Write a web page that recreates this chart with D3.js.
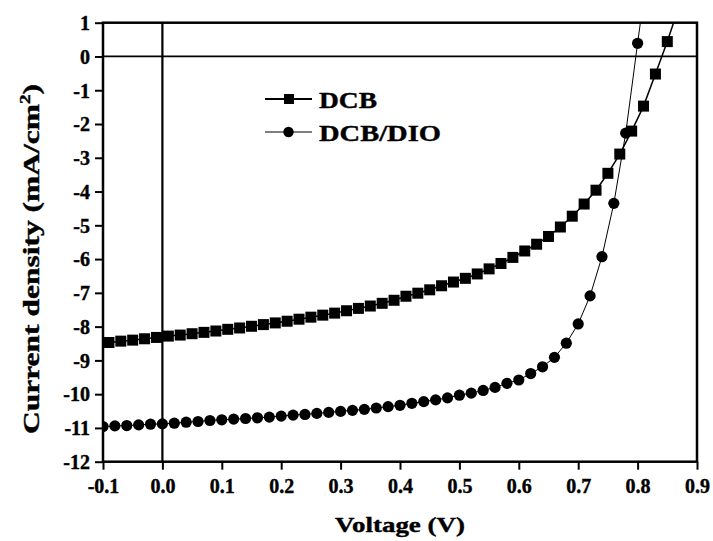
<!DOCTYPE html>
<html>
<head>
<meta charset="utf-8">
<script src="https://cdn.jsdelivr.net/npm/d3@7"></script>
<style>
    body { margin: 0; background: #fff; }
    svg { display: block; }
    text { font-family: "Liberation Serif", "Times New Roman", serif; font-weight: bold; fill: #000; stroke: #000; stroke-width: 0.4px; }
</style>
</head>
<body>
<div id="chart"></div>
<script>
// DCB (squares)
var dcbVoltage = [-0.09, -0.07, -0.05, -0.03, -0.01, 0.01, 0.03, 0.05, 0.07, 0.09,
    0.11, 0.13, 0.15, 0.17, 0.19, 0.21, 0.23, 0.25, 0.27, 0.29,
    0.31, 0.33, 0.35, 0.37, 0.39, 0.41, 0.43, 0.45, 0.47, 0.49,
    0.51, 0.53, 0.55, 0.57, 0.59, 0.61, 0.63, 0.65, 0.67, 0.69,
    0.71, 0.73, 0.75, 0.77, 0.79, 0.81, 0.83, 0.85, 0.87];
var dcbCurrent = [-8.47, -8.43, -8.40, -8.36, -8.32, -8.28, -8.25, -8.21, -8.17, -8.13,
    -8.08, -8.04, -7.99, -7.94, -7.89, -7.84, -7.78, -7.72, -7.66, -7.60,
    -7.53, -7.46, -7.39, -7.31, -7.22, -7.10, -7.01, -6.91, -6.79, -6.68,
    -6.57, -6.44, -6.29, -6.13, -5.95, -5.76, -5.56, -5.33, -5.05, -4.73,
    -4.37, -3.96, -3.46, -2.89, -2.21, -1.47, -0.52, 0.44, 1.50];

// DCB/DIO (circles)
var dioVoltage = [-0.10, -0.08, -0.06, -0.04, -0.02, 0.00, 0.02, 0.04, 0.06, 0.08,
    0.10, 0.12, 0.14, 0.16, 0.18, 0.20, 0.22, 0.24, 0.26, 0.28,
    0.30, 0.32, 0.34, 0.36, 0.38, 0.40, 0.42, 0.44, 0.46, 0.48,
    0.50, 0.52, 0.54, 0.56, 0.58, 0.60, 0.62, 0.64, 0.66, 0.68,
    0.70, 0.72, 0.74, 0.76, 0.78, 0.80, 0.82];
var dioCurrent = [-10.96, -10.94, -10.93, -10.91, -10.89, -10.88, -10.86, -10.83, -10.81, -10.78,
    -10.76, -10.74, -10.72, -10.70, -10.68, -10.65, -10.62, -10.60, -10.57, -10.54,
    -10.51, -10.48, -10.45, -10.41, -10.37, -10.33, -10.27, -10.22, -10.17, -10.11,
    -10.03, -9.97, -9.89, -9.80, -9.68, -9.58, -9.39, -9.19, -8.91, -8.49,
    -7.92, -7.09, -5.93, -4.35, -2.27, 0.39, 3.00];

var xTicks = [-0.1, 0.0, 0.1, 0.2, 0.3, 0.4, 0.5, 0.6, 0.7, 0.8, 0.9];
var yTicks = [1, 0, -1, -2, -3, -4, -5, -6, -7, -8, -9, -10, -11, -12];
var seriesNames = ["DCB", "DCB/DIO"];

var margin = {top: 22.7, right: 16, bottom: 79.3, left: 103};
var width = 713 - margin.left - margin.right,
    height = 541 - margin.top - margin.bottom;

var svg = d3.select("#chart").append("svg")
    .attr("width", 713)
    .attr("height", 541)
    .append("g")
    .attr("transform", "translate(" + margin.left + "," + margin.top + ")");

var x = d3.scaleLinear().domain([-0.1, 0.9]).range([0, width]);
var y = d3.scaleLinear().domain([-12, 1]).range([height, 0]);

var fmt = function(d) { return d3.format(".1f")(d).replace("\u2212", "-"); };

// axes
var xAxis = svg.append("g")
    .attr("transform", "translate(0," + height + ")")
    .call(d3.axisBottom(x).tickValues(xTicks).tickFormat(fmt).tickSize(8).tickPadding(4));
var yAxis = svg.append("g")
    .call(d3.axisLeft(y).tickValues(yTicks).tickFormat(function(d) { return String(d); }).tickSize(8).tickPadding(5));

[xAxis, yAxis].forEach(function(a) {
    a.select(".domain").remove();
    a.selectAll("line").attr("stroke", "#000").attr("stroke-width", 2);
    a.selectAll("text").style("font-size", "20px").attr("fill", "#000");
});
xAxis.selectAll("text").attr("dy", "0.95em");
yAxis.selectAll("text").attr("dy", "0.34em");

// frame
svg.append("rect")
    .attr("x", 0).attr("y", 0)
    .attr("width", width).attr("height", height)
    .attr("fill", "none")
    .attr("stroke", "#000")
    .attr("stroke-width", 2.5);

// zero lines
svg.append("line")
    .attr("x1", 0).attr("x2", width)
    .attr("y1", y(0)).attr("y2", y(0))
    .attr("stroke", "#000").attr("stroke-width", 1.8);
svg.append("line")
    .attr("x1", x(0)).attr("x2", x(0))
    .attr("y1", 0).attr("y2", height)
    .attr("stroke", "#000").attr("stroke-width", 2.2);

svg.append("clipPath").attr("id", "clip")
    .append("rect").attr("width", width).attr("height", height);

var plot = svg.append("g").attr("clip-path", "url(#clip)");

var dcb = dcbVoltage.map(function(v, i) { return {v: v, j: dcbCurrent[i]}; });
var dio = dioVoltage.map(function(v, i) { return {v: v, j: dioCurrent[i]}; });

var line = d3.line()
    .x(function(d) { return x(d.v); })
    .y(function(d) { return y(d.j); });

plot.append("path").datum(dcb)
    .attr("d", line)
    .attr("fill", "none").attr("stroke", "#000").attr("stroke-width", 1.5);
plot.append("path").datum(dio)
    .attr("d", line)
    .attr("fill", "none").attr("stroke", "#000").attr("stroke-width", 1);

plot.selectAll(".sq").data(dcb)
    .enter().append("rect")
    .attr("class", "sq")
    .attr("x", function(d) { return x(d.v) - 5.5; })
    .attr("y", function(d) { return y(d.j) - 5.5; })
    .attr("width", 11).attr("height", 11)
    .attr("fill", "#000");

plot.selectAll(".dot").data(dio)
    .enter().append("circle")
    .attr("class", "dot")
    .attr("cx", function(d) { return x(d.v); })
    .attr("cy", function(d) { return y(d.j); })
    .attr("r", 5.6)
    .attr("fill", "#000");

// legend
var legend = svg.append("g").attr("transform", "translate(" + (265 - margin.left) + "," + (99 - margin.top) + ")");
var lw = [58, 122];
seriesNames.forEach(function(name, i) {
    var g = legend.append("g").attr("transform", "translate(0," + (i * 33) + ")");
    g.append("line")
        .attr("x1", 0).attr("x2", 47)
        .attr("stroke", "#000").attr("stroke-width", i == 0 ? 2 : 1.2);
    if (i == 0) {
        g.append("rect").attr("x", 19).attr("y", -5).attr("width", 10).attr("height", 10).attr("fill", "#000");
    } else {
        g.append("circle").attr("cx", 23.5).attr("r", 5.2).attr("fill", "#000");
    }
    g.append("text")
        .attr("x", 54).attr("y", 8.5)
        .style("font-size", "24px")
        .attr("textLength", lw[i])
        .attr("lengthAdjust", "spacingAndGlyphs")
        .text(name);
});

// axis titles
svg.append("text")
    .attr("x", 400 - margin.left)
    .attr("y", 532 - margin.top)
    .attr("text-anchor", "middle")
    .style("font-size", "22px")
    .attr("textLength", 130)
    .attr("lengthAdjust", "spacingAndGlyphs")
    .text("Voltage (V)");

var yt = svg.append("text")
    .attr("transform", "translate(" + (38.5 - margin.left) + "," + (259 - margin.top) + ") rotate(-90)")
    .attr("text-anchor", "middle")
    .style("font-size", "23px")
    .attr("textLength", 350)
    .attr("lengthAdjust", "spacingAndGlyphs");
yt.append("tspan").text("Current density (mA/cm");
yt.append("tspan").attr("dy", -9).style("font-size", "14px").text("2");
yt.append("tspan").attr("dy", 9).text(")");
</script>
</body>
</html>
